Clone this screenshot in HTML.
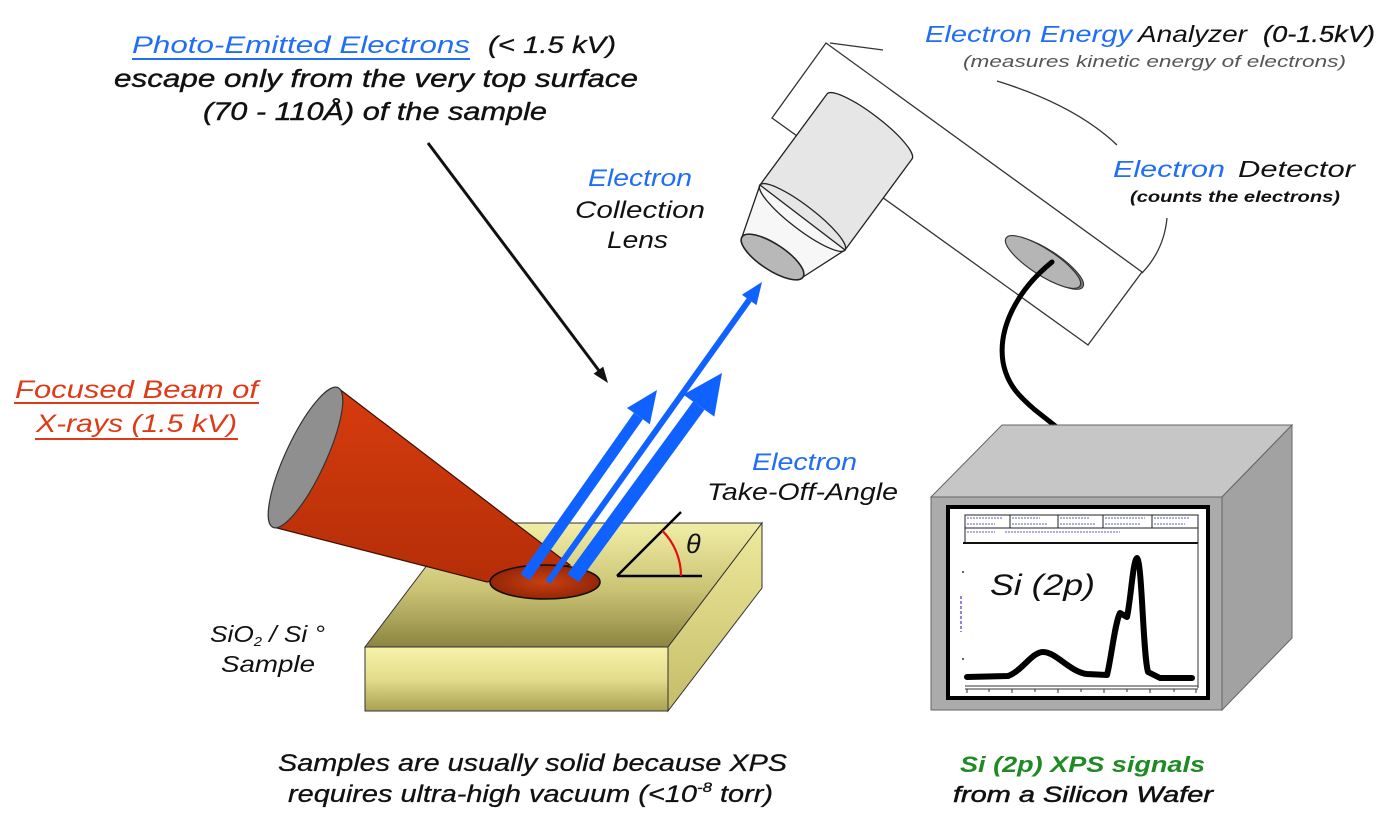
<!DOCTYPE html>
<html><head><meta charset="utf-8"><style>
html,body{margin:0;padding:0;background:#fff;}
svg{display:block;}
text{font-family:"Liberation Sans","DejaVu Sans",sans-serif;font-style:italic;}
</style></head><body>
<svg width="1399" height="828" viewBox="0 0 1399 828" xmlns="http://www.w3.org/2000/svg">
<defs>
<linearGradient id="gTop" x1="0" y1="523" x2="0" y2="647" gradientUnits="userSpaceOnUse">
<stop offset="0" stop-color="#f2eea6"/><stop offset="0.55" stop-color="#c9c273"/><stop offset="1" stop-color="#8c8542"/></linearGradient>
<linearGradient id="gFront" x1="0" y1="647" x2="0" y2="711" gradientUnits="userSpaceOnUse">
<stop offset="0" stop-color="#f6f3aa"/><stop offset="0.5" stop-color="#e2dc8c"/><stop offset="1" stop-color="#a9a152"/></linearGradient>
<linearGradient id="gRight" x1="0" y1="523" x2="0" y2="711" gradientUnits="userSpaceOnUse">
<stop offset="0" stop-color="#eeea9c"/><stop offset="1" stop-color="#c4bc68"/></linearGradient>
<linearGradient id="gCone" x1="0" y1="388" x2="0" y2="582" gradientUnits="userSpaceOnUse">
<stop offset="0" stop-color="#d63c0e"/><stop offset="1" stop-color="#b52e08"/></linearGradient>
<radialGradient id="gSpot" cx="0.5" cy="0.5" r="0.5">
<stop offset="0" stop-color="#c8410f"/><stop offset="1" stop-color="#952608"/></radialGradient>
</defs>

<!-- ===== Top text ===== -->
<text x="132" y="53" font-size="24" fill="#1f6ef5" textLength="338" lengthAdjust="spacingAndGlyphs">Photo-Emitted Electrons</text>
<rect x="132" y="58" width="338" height="2" fill="#1f6ef5"/>
<text x="488" y="53" font-size="24" fill="#111" stroke="#111" stroke-width="0.3" textLength="128" lengthAdjust="spacingAndGlyphs">(&lt; 1.5 kV)</text>
<text x="114" y="87" font-size="25" fill="#111" stroke="#111" stroke-width="0.4" textLength="524" lengthAdjust="spacingAndGlyphs">escape only from the very top surface</text>
<text x="203" y="120" font-size="25" fill="#111" stroke="#111" stroke-width="0.4" textLength="344" lengthAdjust="spacingAndGlyphs">(70 - 110Å) of the sample</text>

<!-- black pointer arrow -->
<line x1="428" y1="143" x2="600" y2="372" stroke="#111" stroke-width="3"/>
<polygon points="608,383 603.2,366.6 593.6,373.8" fill="#111"/>

<!-- Electron Collection Lens label -->
<text x="588" y="186" font-size="24" fill="#1f6ef5" textLength="104" lengthAdjust="spacingAndGlyphs">Electron</text>
<text x="575" y="218" font-size="24" fill="#111" textLength="130" lengthAdjust="spacingAndGlyphs">Collection</text>
<text x="607" y="248" font-size="24" fill="#111" textLength="61" lengthAdjust="spacingAndGlyphs">Lens</text>

<!-- Analyzer labels -->
<text x="925" y="42" font-size="23" fill="#1f6ef5" textLength="207" lengthAdjust="spacingAndGlyphs">Electron Energy</text>
<text x="1138" y="42" font-size="23" fill="#111" textLength="109" lengthAdjust="spacingAndGlyphs">Analyzer</text>
<text x="1263" y="42" font-size="23" fill="#111" stroke="#111" stroke-width="0.3" textLength="112" lengthAdjust="spacingAndGlyphs">(0-1.5kV)</text>
<text x="963" y="67" font-size="17" fill="#555" textLength="383" lengthAdjust="spacingAndGlyphs">(measures kinetic energy of electrons)</text>
<text x="1113" y="177" font-size="23" fill="#1f6ef5" textLength="112" lengthAdjust="spacingAndGlyphs">Electron</text>
<text x="1238" y="177" font-size="23" fill="#111" textLength="117" lengthAdjust="spacingAndGlyphs">Detector</text>
<text x="1130" y="202" font-size="16" font-weight="bold" fill="#111" textLength="210" lengthAdjust="spacingAndGlyphs">(counts the electrons)</text>

<!-- ===== Analyzer ===== -->
<polygon points="826,43 1142,272 1088,345 772,118" fill="#fff" stroke="#333" stroke-width="1.3"/>
<path d="M830,43 L883,50" stroke="#333" stroke-width="1.3" fill="none"/>
<path d="M997,81 Q1075,105 1117,145" stroke="#333" stroke-width="1.3" fill="none"/>
<path d="M1167,218 Q1164,250 1142,273" stroke="#333" stroke-width="1.3" fill="none"/>

<!-- detector -->
<ellipse cx="1046" cy="263" rx="44" ry="13" transform="rotate(33 1046 263)" fill="#777" stroke="#333" stroke-width="1"/>
<ellipse cx="1043" cy="262" rx="44" ry="13" transform="rotate(33 1043 262)" fill="#b5b5b5" stroke="#333" stroke-width="1.2"/>

<!-- lens cylinder body -->
<path d="M760,185 L827,94 A53.5,12 37.4 0 1 912,159 L845,250 A53.5,12 37.4 0 1 760,185 Z" fill="#e6e6e6" stroke="#222" stroke-width="1.3"/>
<!-- lens cone -->
<polygon points="760,185 845,250 803,277 742,237" fill="#f7f7f7" stroke="#222" stroke-width="1.3"/>
<ellipse cx="802.5" cy="217.5" rx="53.5" ry="12" transform="rotate(37.4 802.5 217.5)" fill="none" stroke="#222" stroke-width="1.3"/>
<ellipse cx="772.5" cy="257" rx="36.5" ry="13" transform="rotate(33.3 772.5 257)" fill="#b8b8b8" stroke="#222" stroke-width="1.6"/>

<!-- cable -->
<path d="M1052,262 C1015,292 998,330 1003,362 C1007,385 1020,397 1035,410 L1092,455" fill="none" stroke="#000" stroke-width="5" stroke-linecap="round"/>

<!-- ===== Monitor ===== -->
<polygon points="931,497 1002,425 1292,425 1222,497" fill="#c6c6c6" stroke="#666" stroke-width="1"/>
<polygon points="1222,497 1292,425 1292,638 1222,710" fill="#a2a2a2" stroke="#666" stroke-width="1"/>
<rect x="931" y="497" width="291" height="213" fill="#ababab" stroke="#666" stroke-width="1"/>
<rect x="948" y="507" width="260" height="191" fill="#fff" stroke="#000" stroke-width="4"/>
<!-- chart header -->
<rect x="965" y="515" width="233" height="28" fill="none" stroke="#222" stroke-width="1"/>
<line x1="965" y1="528" x2="1198" y2="528" stroke="#222" stroke-width="1"/>
<line x1="1010" y1="515" x2="1010" y2="528" stroke="#222" stroke-width="1"/>
<line x1="1058" y1="515" x2="1058" y2="528" stroke="#222" stroke-width="1"/>
<line x1="1103" y1="515" x2="1103" y2="528" stroke="#222" stroke-width="1"/>
<line x1="1152" y1="515" x2="1152" y2="528" stroke="#222" stroke-width="1"/>
<g stroke="#5a5ad0" stroke-width="1" stroke-dasharray="2,1">
<line x1="967" y1="518" x2="1002" y2="518"/><line x1="967" y1="524" x2="995" y2="524"/>
<line x1="1012" y1="518" x2="1040" y2="518"/><line x1="1012" y1="524" x2="1048" y2="524"/>
<line x1="1060" y1="518" x2="1090" y2="518"/><line x1="1060" y1="524" x2="1095" y2="524"/>
<line x1="1105" y1="518" x2="1145" y2="518"/><line x1="1105" y1="524" x2="1140" y2="524"/>
<line x1="1154" y1="518" x2="1190" y2="518"/><line x1="1154" y1="524" x2="1185" y2="524"/>
<line x1="967" y1="532" x2="995" y2="532"/><line x1="1005" y1="532" x2="1120" y2="532"/>
</g>
<line x1="963" y1="543" x2="1198" y2="543" stroke="#111" stroke-width="2"/>
<line x1="1198" y1="543" x2="1198" y2="688" stroke="#333" stroke-width="1"/>
<line x1="965" y1="686" x2="1198" y2="686" stroke="#333" stroke-width="1"/>
<line x1="965" y1="689" x2="1198" y2="689" stroke="#333" stroke-width="1"/>
<g stroke="#333" stroke-width="1">
<line x1="967" y1="689" x2="967" y2="693"/><line x1="989" y1="689" x2="989" y2="692"/>
<line x1="1012" y1="689" x2="1012" y2="693"/><line x1="1035" y1="689" x2="1035" y2="692"/>
<line x1="1058" y1="689" x2="1058" y2="693"/><line x1="1081" y1="689" x2="1081" y2="692"/>
<line x1="1104" y1="689" x2="1104" y2="693"/><line x1="1127" y1="689" x2="1127" y2="692"/>
<line x1="1150" y1="689" x2="1150" y2="693"/><line x1="1174" y1="689" x2="1174" y2="692"/>
<line x1="1196" y1="689" x2="1196" y2="693"/>
</g>
<line x1="961" y1="596" x2="961" y2="632" stroke="#6a5ae0" stroke-width="1.5" stroke-dasharray="3,2"/>
<circle cx="963" cy="572" r="1" fill="#333"/><circle cx="963" cy="659" r="1" fill="#333"/>
<!-- spectrum -->
<path d="M967,677 L1008,676 C1022,671 1032,652 1043,652 C1056,652 1070,672 1087,674 L1107,675 C1111,660 1115,622 1120,613 L1127,617 C1131,598 1133,560 1137,558 C1142,561 1143,655 1148,672 L1160,678 L1192,678" fill="none" stroke="#000" stroke-width="6" stroke-linejoin="round" stroke-linecap="round"/>
<text x="990" y="595" font-size="30" fill="#111" textLength="105" lengthAdjust="spacingAndGlyphs">Si (2p)</text>

<text x="960" y="772" font-size="22" font-weight="bold" fill="#1f8a24" textLength="245" lengthAdjust="spacingAndGlyphs">Si (2p) XPS signals</text>
<text x="953" y="802" font-size="22" fill="#111" stroke="#111" stroke-width="0.5" textLength="260" lengthAdjust="spacingAndGlyphs">from a Silicon Wafer</text>

<!-- ===== Sample block ===== -->
<polygon points="459,523 762,523 668,647 365,647" fill="url(#gTop)" stroke="#333" stroke-width="1"/>
<polygon points="762,523 762,588 668,711 668,647" fill="url(#gRight)" stroke="#333" stroke-width="1"/>
<rect x="365" y="647" width="303" height="64" fill="url(#gFront)" stroke="#333" stroke-width="1"/>

<!-- angle -->
<line x1="617" y1="576" x2="702" y2="576" stroke="#000" stroke-width="2.5"/>
<line x1="617" y1="576" x2="681" y2="512" stroke="#000" stroke-width="2.5"/>
<path d="M662.3,530.7 A64,64 0 0 1 681,576" fill="none" stroke="#e01010" stroke-width="2.2"/>
<text x="686" y="553" font-size="27" font-style="normal" fill="#111">θ</text>

<!-- X-ray cone -->
<path d="M338,388 L570,565 L487,582 L273,527 Z" fill="url(#gCone)" stroke="#3a1000" stroke-width="1.2"/>
<ellipse cx="305.5" cy="457.5" rx="20" ry="77" transform="rotate(25 305.5 457.5)" fill="#8f8f8f" stroke="#333" stroke-width="1.2"/>
<!-- spot -->
<ellipse cx="545" cy="582" rx="55" ry="17" fill="url(#gSpot)" stroke="#111" stroke-width="1.6"/>

<!-- Blue electron beams -->
<line x1="525" y1="577" x2="638.4" y2="416.1" stroke="#0f62ff" stroke-width="11"/>
<polygon points="657,390 649.8,424.2 627.0,408.0" fill="#0f62ff"/>
<line x1="548" y1="582" x2="749.2" y2="299.9" stroke="#0f62ff" stroke-width="6"/>
<polygon points="762,282 756.5,305.1 741.9,294.7" fill="#0f62ff"/>
<line x1="573" y1="578" x2="698.8" y2="405.6" stroke="#0f62ff" stroke-width="14"/>
<polygon points="722,373 714.3,416.6 683.3,394.6" fill="#0f62ff"/>

<!-- Take-off angle label -->
<text x="752" y="470" font-size="24" fill="#1f6ef5" textLength="105" lengthAdjust="spacingAndGlyphs">Electron</text>
<text x="707" y="500" font-size="24" fill="#111" textLength="191" lengthAdjust="spacingAndGlyphs">Take-Off-Angle</text>

<!-- X-ray label -->
<text x="15" y="398" font-size="25" fill="#dd3a18" textLength="243" lengthAdjust="spacingAndGlyphs">Focused Beam of</text>
<rect x="14" y="402" width="245" height="2" fill="#dd3a18"/>
<text x="36" y="432" font-size="25" fill="#dd3a18" textLength="201" lengthAdjust="spacingAndGlyphs">X-rays (1.5 kV)</text>
<rect x="35" y="438" width="203" height="2" fill="#dd3a18"/>

<!-- Sample label -->
<text x="210" y="642" font-size="23" fill="#111" textLength="115" lengthAdjust="spacingAndGlyphs">SiO<tspan font-size="13" dy="4">2</tspan><tspan dy="-4"> / Si °</tspan></text>
<text x="221" y="672" font-size="23" fill="#111" textLength="94" lengthAdjust="spacingAndGlyphs">Sample</text>

<!-- bottom text -->
<text x="278" y="771" font-size="24" fill="#111" stroke="#111" stroke-width="0.3" textLength="509" lengthAdjust="spacingAndGlyphs">Samples are usually solid because XPS</text>
<text x="288" y="802" font-size="24" fill="#111" stroke="#111" stroke-width="0.3" textLength="485" lengthAdjust="spacingAndGlyphs">requires ultra-high vacuum (&lt;10<tspan font-size="14" dy="-10">-8</tspan><tspan dy="10"> torr)</tspan></text>
</svg>
</body></html>
